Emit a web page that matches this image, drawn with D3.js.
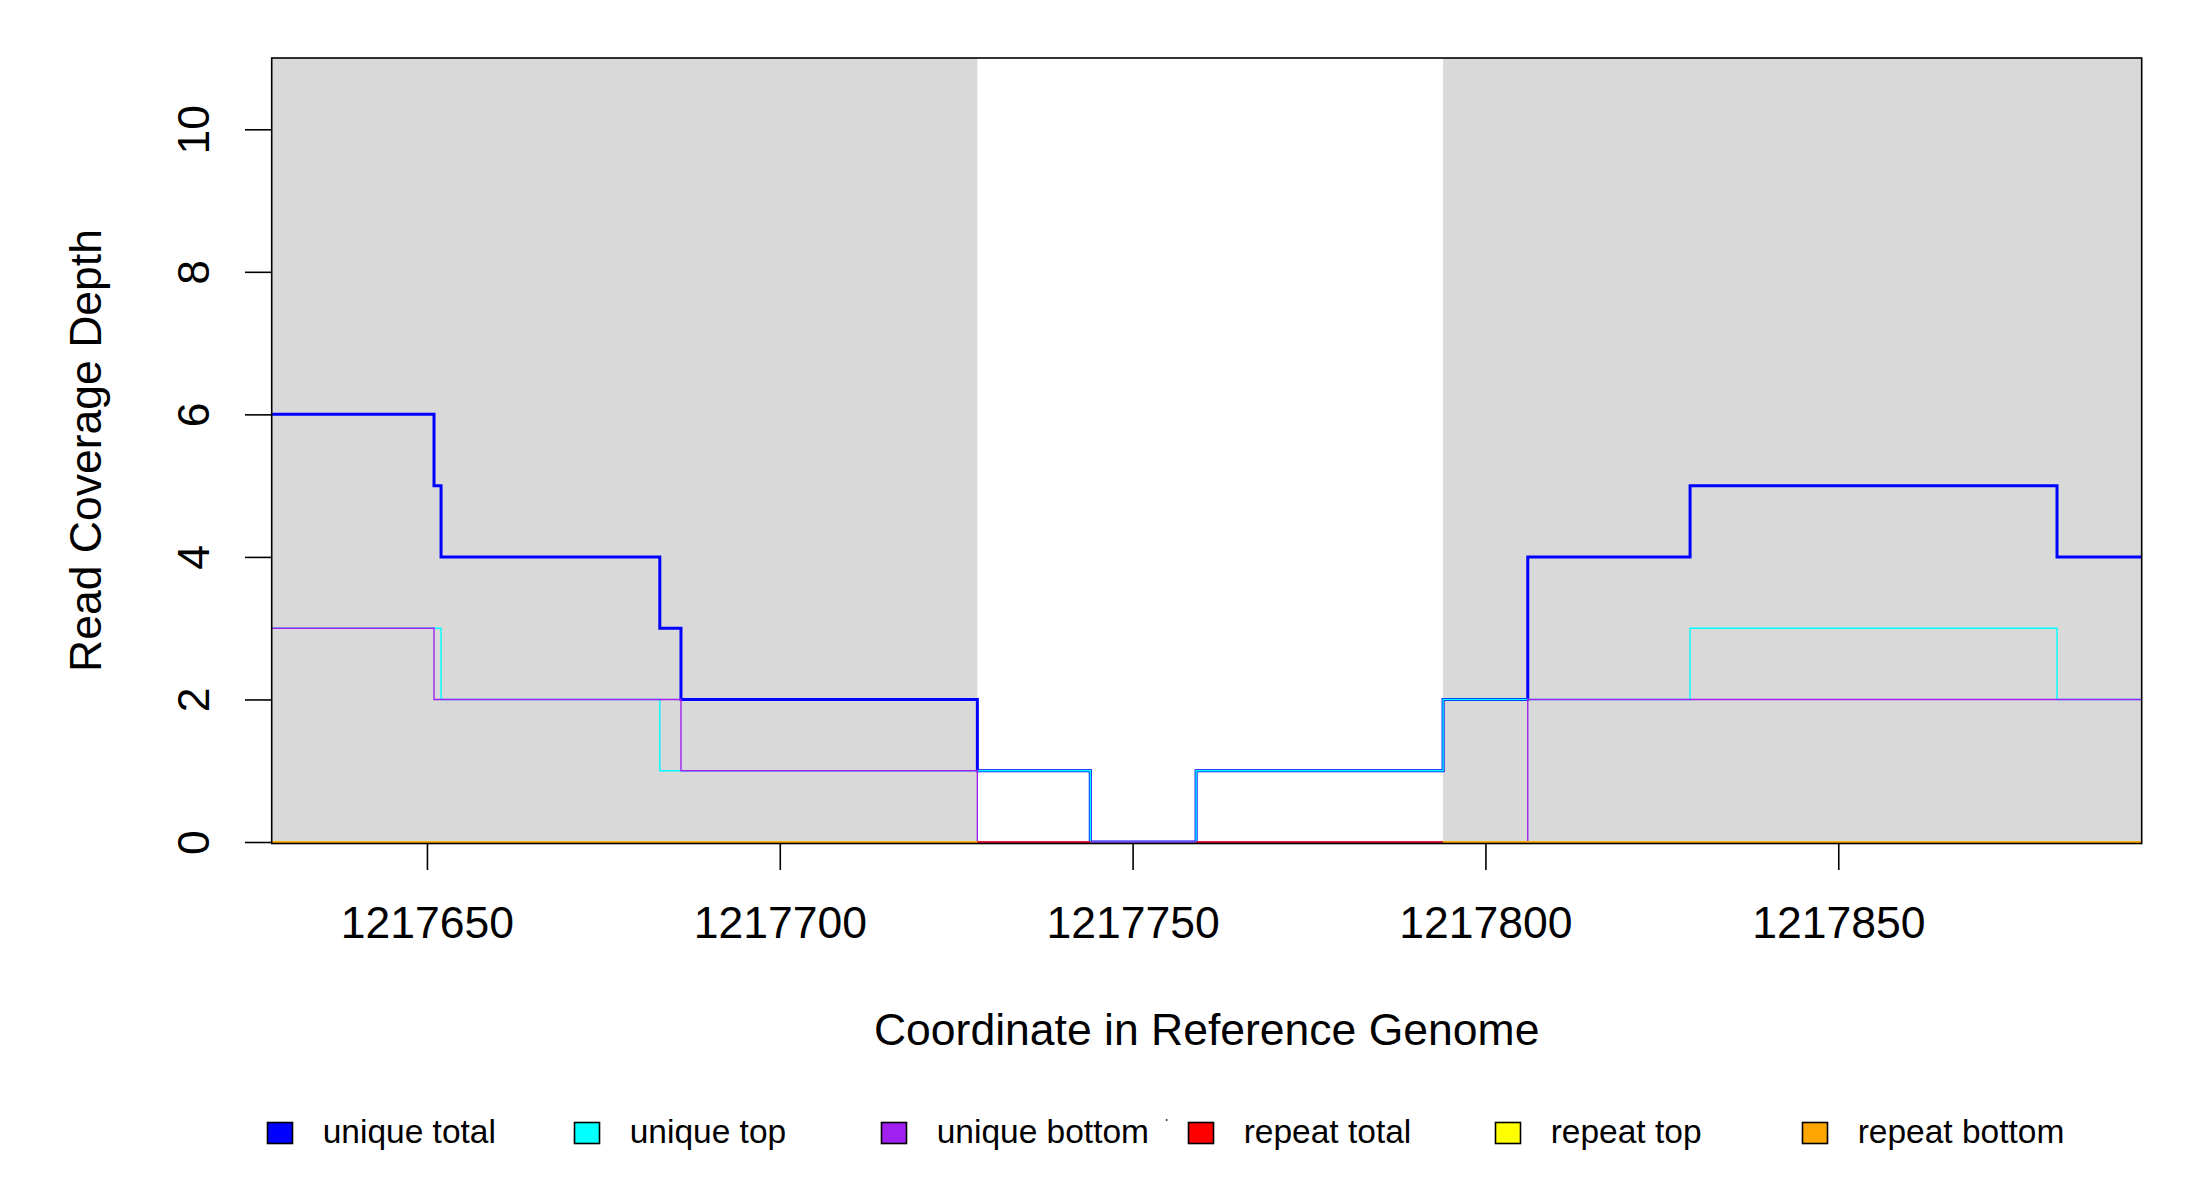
<!DOCTYPE html>
<html>
<head>
<meta charset="utf-8">
<script src="https://cdn.jsdelivr.net/npm/d3@7"></script>
<style>
    body { margin: 0; background: #fff; }
    text { font-family: "Liberation Sans", Arial, sans-serif; fill: #000; }
</style>
</head>
<body>
<div id="chart"></div>
<script>
// breakpoints (genome coordinates) and the value held until the next breakpoint
let uniqueTotalX = [1217628, 1217651, 1217652, 1217683, 1217686, 1217728, 1217744, 1217759, 1217794, 1217806, 1217829, 1217881, 1217893];
let uniqueTotalY = [6, 5, 4, 3, 2, 1, 0, 1, 2, 4, 5, 4];

let uniqueTopX = [1217628, 1217652, 1217683, 1217744, 1217759, 1217794, 1217829, 1217881, 1217893];
let uniqueTopY = [3, 2, 1, 0, 1, 2, 3, 2];

let uniqueBottomX = [1217628, 1217651, 1217686, 1217728, 1217806, 1217893];
let uniqueBottomY = [3, 2, 1, 0, 2];

// repeat coverage: null = no record for that stretch
let repeatTotalX = [1217628, 1217744, 1217759, 1217893];
let repeatTotalY = [0, null, 0];

let repeatTopX = [1217628, 1217728, 1217794, 1217893];
let repeatTopY = [0, null, 0];

let repeatBottomX = [1217628, 1217728, 1217794, 1217893];
let repeatBottomY = [0, null, 0];

// shaded stretches
let shadeStart = [1217628, 1217794];
let shadeEnd = [1217728, 1217893];

let xDomain = [1217628, 1217893];
let yDomain = [0, 11];
let xTicks = [1217650, 1217700, 1217750, 1217800, 1217850];
let yTicks = [0, 2, 4, 6, 8, 10];

let legendLabels = ["unique total", "unique top", "unique bottom", "repeat total", "repeat top", "repeat bottom"];
let legendColors = ["#0000FF", "#00FFFF", "#A020F0", "#FF0000", "#FFFF00", "#FFA500"];

let series = [
    {xs: uniqueTotalX, ys: uniqueTotalY, color: "#0000FF", width: 3},
    {xs: uniqueTopX, ys: uniqueTopY, color: "#00FFFF", width: 1.4},
    {xs: uniqueBottomX, ys: uniqueBottomY, color: "#A020F0", width: 1.4},
    {xs: repeatTotalX, ys: repeatTotalY, color: "#FF0000", width: 1.4},
    {xs: repeatTopX, ys: repeatTopY, color: "#FFFF00", width: 1.4},
    {xs: repeatBottomX, ys: repeatBottomY, color: "#FFA500", width: 1.4}
];

let width = 2200, height = 1200;
let plot = {left: 271.7, right: 2141.7, top: 58, bottom: 843};

let svg = d3.select("#chart").append("svg")
    .attr("width", width)
    .attr("height", height);

let x = d3.scaleLinear().domain(xDomain).range([plot.left, plot.right]);
let y = d3.scaleLinear().domain(yDomain).range([plot.bottom - 1, plot.top]);

// shaded regions
svg.selectAll(".shade")
    .data(shadeStart.map((s, i) => ({s: s, e: shadeEnd[i]})))
    .enter()
    .append("rect")
    .attr("class", "shade")
    .attr("x", d => x(d.s))
    .attr("y", plot.top)
    .attr("width", d => x(d.e) - x(d.s))
    .attr("height", plot.bottom - plot.top)
    .attr("fill", "#D9D9D9");

// turn breakpoints + values into step points, null breaks the line
function stepPoints(xs, ys) {
    let pts = [];
    ys.forEach((v, i) => {
        if (v === null) {
            pts.push({x: xs[i], v: null});
        } else {
            pts.push({x: xs[i], v: v});
            pts.push({x: xs[i + 1], v: v});
        }
    });
    return pts;
}

let line = d3.line()
    .defined(d => d.v !== null)
    .x(d => x(d.x))
    .y(d => y(d.v));

svg.append("defs").append("clipPath")
    .attr("id", "plotClip")
    .append("rect")
    .attr("x", plot.left)
    .attr("y", plot.top)
    .attr("width", plot.right - plot.left)
    .attr("height", plot.bottom - plot.top);

svg.append("g")
    .attr("clip-path", "url(#plotClip)")
    .selectAll(".series")
    .data(series)
    .enter()
    .append("path")
    .attr("class", "series")
    .attr("d", d => line(stepPoints(d.xs, d.ys)))
    .attr("fill", "none")
    .attr("stroke", d => d.color)
    .attr("stroke-width", d => d.width)
    .attr("stroke-linejoin", "miter");

// frame
svg.append("rect")
    .attr("x", plot.left)
    .attr("y", plot.top)
    .attr("width", plot.right - plot.left)
    .attr("height", plot.bottom - plot.top + 0.5)
    .attr("fill", "none")
    .attr("stroke", "#000")
    .attr("stroke-width", 1.6);

// x axis
let xAxis = svg.append("g")
    .attr("transform", `translate(0, ${plot.bottom})`)
    .call(d3.axisBottom(x).tickValues(xTicks).tickSize(27).tickFormat(d3.format("d")));
xAxis.select(".domain").remove();
xAxis.selectAll(".tick line").attr("stroke", "#000").attr("stroke-width", 1.6);
xAxis.selectAll(".tick text")
    .attr("y", 95)
    .attr("dy", 0)
    .style("font-size", "44.5px")
    .style("font-family", "Liberation Sans, Arial, sans-serif")
    .attr("fill", "#000");

// y axis
let yAxis = svg.append("g")
    .attr("transform", `translate(${plot.left}, 0)`)
    .call(d3.axisLeft(y).tickValues(yTicks).tickSize(26.7));
yAxis.select(".domain").remove();
yAxis.selectAll(".tick line").attr("stroke", "#000").attr("stroke-width", 1.6);
yAxis.selectAll(".tick text")
    .attr("x", 0)
    .attr("y", 0)
    .attr("dy", 0)
    .attr("text-anchor", "middle")
    .attr("transform", "translate(-62.7, 0) rotate(-90)")
    .style("font-size", "44.5px")
    .style("font-family", "Liberation Sans, Arial, sans-serif")
    .attr("fill", "#000");

// axis titles
svg.append("text")
    .attr("x", (plot.left + plot.right) / 2)
    .attr("y", 1045)
    .attr("text-anchor", "middle")
    .style("font-size", "44.5px")
    .text("Coordinate in Reference Genome");

svg.append("text")
    .attr("transform", `translate(101, ${(plot.top + plot.bottom) / 2}) rotate(-90)`)
    .attr("text-anchor", "middle")
    .style("font-size", "44.5px")
    .text("Read Coverage Depth");

// legend
let legendX = d3.scalePoint().domain(legendLabels).range([280, 1815]);

let legend = svg.append("g").attr("class", "legend");

let items = legend.selectAll(".item")
    .data(legendLabels)
    .enter()
    .append("g")
    .attr("class", "item")
    .attr("transform", d => `translate(${legendX(d)}, 1133)`);

items.append("rect")
    .attr("x", -12.5)
    .attr("y", -10.5)
    .attr("width", 25)
    .attr("height", 21)
    .attr("fill", (d, i) => legendColors[i])
    .attr("stroke", "#000")
    .attr("stroke-width", 1.6);

items.append("text")
    .attr("x", 42.7)
    .attr("y", 9.5)
    .style("font-size", "33.5px")
    .text(d => d);

// stray speck left by the original legend
svg.append("circle")
    .attr("cx", 1166.7)
    .attr("cy", 1120)
    .attr("r", 1)
    .attr("fill", "#333");
</script>
</body>
</html>
